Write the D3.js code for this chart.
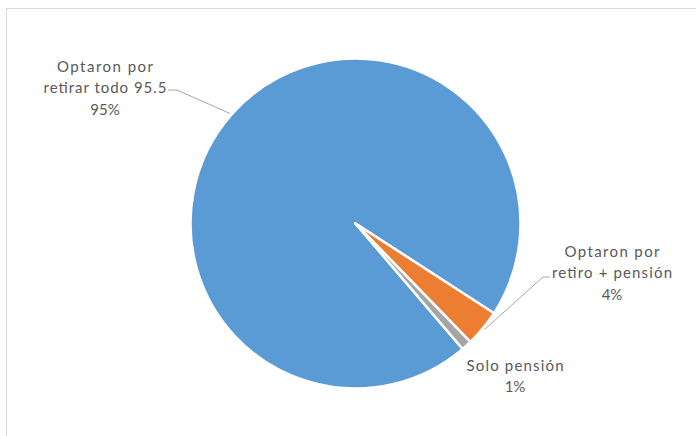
<!DOCTYPE html>
<html>
<head>
<meta charset="utf-8">
<script src="https://cdn.jsdelivr.net/npm/d3@7"></script>
<style>
  html, body { margin: 0; padding: 0; background: #fff; }
  svg { display: block; }
  text { font-family: Lato, "Open Sans", "Liberation Sans", sans-serif; font-size: 15px; fill: #595959; }
</style>
</head>
<body>
<svg id="chart" width="696" height="436"></svg>
<script>
// ---- data ----
const categories = ["Optaron por retirar todo 95.5", "Optaron por retiro + pensión", "Solo pensión"];
const categoryLines = [["Optaron por", "retirar todo 95.5"], ["Optaron por", "retiro + pensión"], ["Solo pensión"]];
const values = [95.4, 3.6, 1.0];
const colors = ["#5B9BD5", "#ED7D31", "#A5A5A5"];

// ---- layout ----
const W = 696, H = 436;
const cx = 355.5, cy = 223.5, R = 165;
const firstSliceAngle = 139.5; // degrees, clockwise from 12 o'clock
// label layout: centre x, first baseline y, line widths, leader elbow
const labelLayout = [
  { x: 105, y: 71.5, widths: [96, 123], leader: { side: "left", textEdge: 168, elbowX: 177, y: 90 } },
  { x: 612, y: 256.5, widths: [95, 120], leader: { side: "right", textEdge: 550, elbowX: 543, y: 277 } },
  { x: 515, y: 370.5, widths: [97], leader: null }
];
const lineGap = 21.5;

const svg = d3.select("#chart");

// chart area border
svg.append("rect")
  .attr("x", 6.5).attr("y", 8.5)
  .attr("width", W + 10).attr("height", H + 10)
  .attr("fill", "#fff").attr("stroke", "#d9d9d9").attr("stroke-width", 1);

const total = d3.sum(values);
const a0 = firstSliceAngle * Math.PI / 180;
const pie = d3.pie().sort(null).startAngle(a0).endAngle(a0 + 2 * Math.PI);
const arcs = pie(values);
const arc = d3.arc().innerRadius(0).outerRadius(R);

const g = svg.append("g").attr("transform", `translate(${cx},${cy})`);
g.selectAll("path.slice")
  .data(arcs)
  .join("path")
  .attr("class", "slice")
  .attr("d", arc)
  .attr("fill", (d, i) => colors[i])
  .attr("stroke", "#fff")
  .attr("stroke-width", 2.5)
  .attr("stroke-linejoin", "round");

const pct = d3.format(".0%");

// leader lines
arcs.forEach((d, i) => {
  const L = labelLayout[i];
  if (!L.leader) return;
  const mid = (d.startAngle + d.endAngle) / 2;
  const px = cx + (R + 2) * Math.sin(mid);
  const py = cy - (R + 2) * Math.cos(mid);
  svg.append("polyline")
    .attr("points", `${L.leader.textEdge},${L.leader.y} ${L.leader.elbowX},${L.leader.y} ${px},${py}`)
    .attr("fill", "none")
    .attr("stroke", "#a6a6a6")
    .attr("stroke-width", 1);
});

// labels
arcs.forEach((d, i) => {
  const L = labelLayout[i];
  const lines = categoryLines[i];
  const t = svg.append("text").attr("text-anchor", "middle");
  lines.forEach((ln, k) => {
    t.append("tspan")
      .attr("x", L.x)
      .attr("y", L.y + k * lineGap)
      .attr("textLength", L.widths[k])
      .attr("lengthAdjust", "spacing")
      .text(ln);
  });
  t.append("tspan")
    .attr("x", L.x)
    .attr("y", L.y + lines.length * lineGap)
    .text(pct(values[i] / total));
});
</script>
</body>
</html>
